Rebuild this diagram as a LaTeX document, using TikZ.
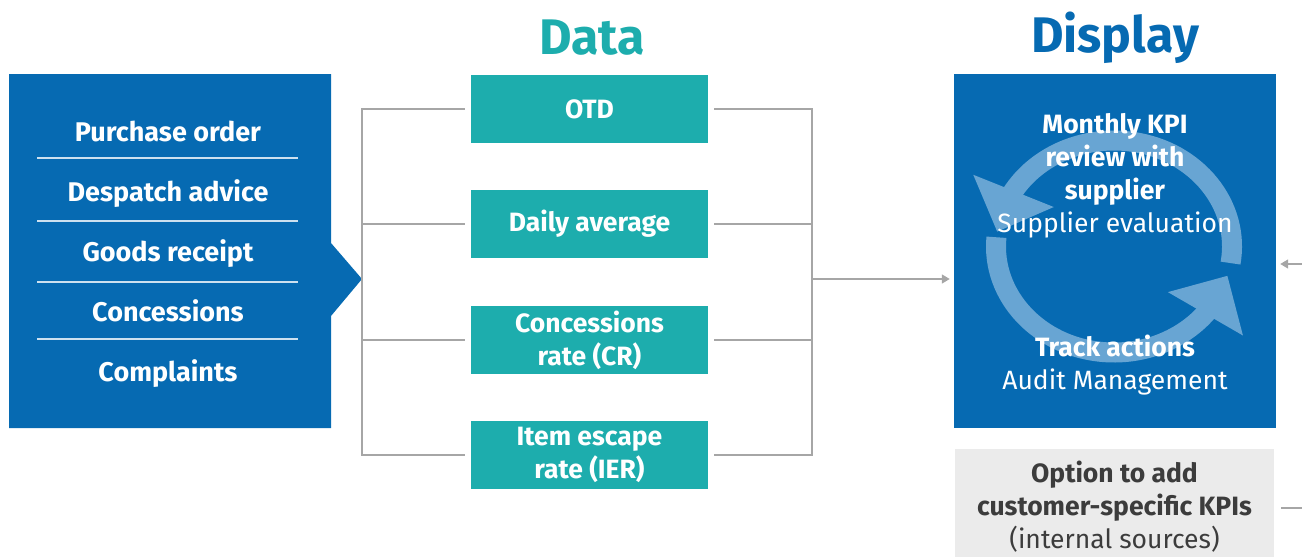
\documentclass[tikz,border=0pt]{standalone}
\usepackage{fontspec}
\setmainfont{Fira Sans}
\usetikzlibrary{arrows.meta,bending}

\definecolor{boxblue}{RGB}{6,106,178}
\definecolor{ringblue}{RGB}{104,165,211}
\definecolor{datateal}{RGB}{29,173,173}
\definecolor{linkgray}{RGB}{166,166,166}
\definecolor{optgray}{RGB}{235,235,235}
\definecolor{optgraytext}{RGB}{60,60,60}

\begin{document}
\begin{tikzpicture}[x=1pt,y=-1pt,
  title/.style={font=\fontsize{50}{60}\selectfont\bfseries},
  listitem/.style={text=white, anchor=base, font=\fontsize{27}{30}\selectfont\bfseries},
  databox/.style={fill=datateal, text=white, minimum width=237pt, minimum height=68pt,
    inner sep=0pt, align=center, font=\fontsize{26.5}{33}\selectfont\bfseries},
  disptext/.style={text=white, align=center, font=\fontsize{26.5}{33}\selectfont},
  link/.style={draw=linkgray, line width=1.5pt},
  gtip/.style={-{Triangle[width=9pt,length=8pt]}},
  sep/.style={draw=white!80!boxblue, line width=1.5pt},
  ring/.style={draw=ringblue, line width=20pt, -{Triangle[width=84pt,length=44pt]}}]
  \useasboundingbox (0,0) rectangle (1302,557);

  % titles
  \node[title, text=datateal] (datatitle) at (592,38) {Data};
  \node[title, text=boxblue] (disptitle) at (1115,38) {Display};

  % sources
  \fill[boxblue] (9,74) -- (331,74) -- (331,243) -- (362,279) -- (331,316)
    -- (331,428) -- (9,428) -- cycle;
  \coordinate (feed) at (362,279);
  \node[listitem] (po) at (168,141) {Purchase order};
  \node[listitem] (da) at (168,201) {Despatch advice};
  \node[listitem] (gr) at (168,261) {Goods receipt};
  \node[listitem] (co) at (168,321) {Concessions};
  \node[listitem] (cp) at (168,381) {Complaints};
  \foreach \y in {158,221,282,339}
    \draw[sep] (37,\y) -- (298,\y);

  % data
  \node[databox] (otd) at (589.5,109) {OTD};
  \node[databox] (daily) at (589.5,224) {Daily average};
  \node[databox] (conc) at (589.5,340) {Concessions\\rate (CR)};
  \node[databox] (ier) at (589.5,455) {Item escape\\rate (IER)};

  \coordinate (hub) at (812,279);
  \foreach \n in {otd,daily,conc,ier} {
    \draw[link, shorten <=6pt] (\n.west) -| (feed);
    \draw[link, shorten <=6pt] (\n.east) -| (hub);
  }

  % display
  \node[fill=boxblue, minimum width=322pt, minimum height=354pt, inner sep=0pt] (review) at (1115,251) {};
  \draw[link, gtip, shorten >=4pt] (hub) -- (review.west |- hub);

  \coordinate (ctr) at (1114,246.5);
  \draw[ring] (ctr) ++(-9:118pt and 106pt)
    arc[start angle=-9, end angle=172, x radius=118pt, y radius=106pt];
  \draw[ring] (ctr) ++(175:118pt and 106pt)
    arc[start angle=175, end angle=344, x radius=118pt, y radius=106pt];

  \node[disptext] (monthly) at (1115,176)
    {\textbf{Monthly KPI}\\\textbf{review with}\\\textbf{supplier}\\Supplier evaluation};
  \node[disptext] (track) at (1115,365) {\textbf{Track actions}\\Audit Management};

  % option box
  \node[fill=optgray, text=optgraytext, minimum width=319pt, minimum height=116pt, inner sep=0pt,
    align=center, font=\fontsize{26.5}{33}\selectfont] (custom) at (1114.5,507)
    {\textbf{Option to add}\\\textbf{customer-specific KPIs}\\(internal sources)};

  \coordinate (extA) at (1302,264);
  \coordinate (extB) at (1302,508);
  \draw[link, gtip, shorten >=4pt] (extA) -- (review.east |- extA);
  \draw[link, shorten >=7pt] (extB) -- (custom.east |- extB);
\end{tikzpicture}
\end{document}
